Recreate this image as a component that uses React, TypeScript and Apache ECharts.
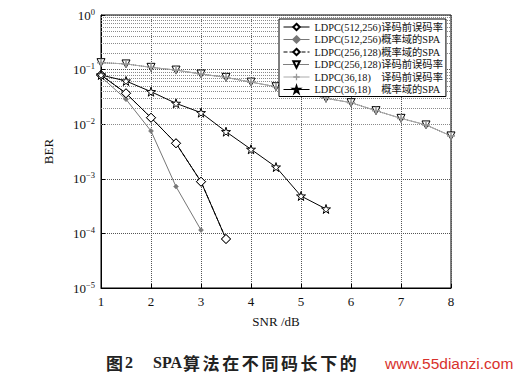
import React, { useEffect, useRef } from "react";
import * as echarts from "echarts";

// SNR values (dB)
const snrTop = [1, 1.5, 2, 2.5, 3, 3.5, 4, 4.5, 5, 5.5, 6, 6.5, 7, 7.5, 8];
const snr256 = [1, 1.5, 2, 2.5, 3, 3.5];
const snr512 = [1, 1.5, 2, 2.5, 3];
const snr36 = [1, 1.5, 2, 2.5, 3, 3.5, 4, 4.5, 5, 5.5];

// BER values
const ber512Pre = [0.0796, 0.0368, 0.01315, 0.00447, 8.85e-4, 7.9e-5];
const ber512Spa = [0.074, 0.0286, 0.0075, 7.2e-4, 1.15e-4];
const ber256Spa = [0.0796, 0.0368, 0.01315, 0.00447, 8.85e-4, 7.9e-5];
const ber256Pre = [0.134, 0.127, 0.11, 0.098, 0.083, 0.072, 0.059, 0.0486, 0.039, 0.0298, 0.0248, 0.0177, 0.0128, 0.0097, 0.0061];
const ber36Pre = [0.134, 0.127, 0.11, 0.098, 0.083, 0.072, 0.059, 0.0486, 0.039, 0.0298, 0.0248, 0.0177, 0.0128, 0.0097, 0.0061];
const ber36Spa = [0.0796, 0.0618, 0.0394, 0.0241, 0.01625, 0.00729, 0.00347, 0.00164, 4.84e-4, 2.8e-4];

const seriesNames = [
  "LDPC(512,256)译码前误码率",
  "LDPC(512,256)概率域的SPA",
  "LDPC(256,128)概率域的SPA",
  "LDPC(256,128)译码前误码率",
  "LDPC(36,18)译码前误码率",
  "LDPC(36,18)概率域的SPA",
];

const xTicks = [1, 2, 3, 4, 5, 6, 7, 8];

const captionFig = "图";
const captionNum = "2";
const captionLatin = "SPA";
const captionText = "算法在不同码长下的";
const watermark = "www.55dianzi.com";

const SERIF = "Liberation Serif, 'Times New Roman', serif";
const CJK = "'Noto Sans CJK SC', sans-serif";
const MIXED = "'Liberation Serif', 'Noto Sans CJK SC', serif";

const STAR =
  "path://M50,0 L61.8,36.2 L100,36.2 L69.1,58.6 L80.9,95.1 L50,72.7 L19.1,95.1 L30.9,58.6 L0,36.2 L38.2,36.2 Z";
const PLUS = "path://M4,0H6V4H10V6H6V10H4V6H0V4H4Z";

const pairs = (xs: number[], ys: number[]) => xs.map((x, i) => [x, ys[i]]);

export default function App() {
  const ref = useRef<HTMLDivElement>(null);
  useEffect(() => {
    document.body.style.margin = "0";
    if (!ref.current) return;
    const chart = echarts.init(ref.current, undefined, { renderer: "svg" });

    const minorLines: { yAxis: number }[] = [];
    for (let d = -5; d <= -1; d++) {
      for (let m = 2; m <= 9; m++) minorLines.push({ yAxis: m * Math.pow(10, d) });
    }

    const emptyStyle = { color: "#fff", borderColor: "#000", borderWidth: 1 };

    const capFont = `bold 17px ${CJK}`;
    const latFont = `bold 16px ${SERIF}`;
    const capCol = "#222";
    const capY = 362;
    const caption: any[] = [
      { type: "text", x: 106, y: capY, style: { text: captionFig, font: capFont, fill: capCol, verticalAlign: "middle" } },
      { type: "text", x: 125, y: capY, style: { text: captionNum, font: latFont, fill: capCol, verticalAlign: "middle" } },
      { type: "text", x: 153, y: capY, style: { text: captionLatin, font: latFont, fill: capCol, verticalAlign: "middle" } },
      ...Array.from(captionText).map((ch, i) => ({
        type: "text",
        x: 183 + i * 19.6,
        y: capY,
        style: { text: ch, font: capFont, fill: capCol, verticalAlign: "middle" },
      })),
      {
        type: "text",
        x: 385,
        y: capY + 1,
        style: {
          text: watermark,
          font: `15.5px 'Liberation Sans', Arial, sans-serif`,
          fill: "#d8312c",
          verticalAlign: "middle",
        },
      },
    ];

    chart.setOption({
      animation: false,
      backgroundColor: "#fff",
      grid: {
        left: 101,
        right: 66,
        top: 15,
        bottom: 90,
        show: true,
        borderColor: "#000",
        borderWidth: 1,
        backgroundColor: "transparent",
      },
      legend: {
        data: seriesNames,
        orient: "vertical",
        left: 279,
        top: 19,
        z: 20,
        padding: [2, 3, 1, 4],
        itemGap: 0.5,
        itemWidth: 26,
        itemHeight: 8,
        backgroundColor: "#fff",
        borderColor: "#000",
        borderWidth: 1,
        selectedMode: false,
        lineStyle: { width: 1 },
        formatter: (name: string) => name.replace("LDPC(36,18)", "LDPC(36,18)    "),
        textStyle: {
          color: "#111",
          fontFamily: MIXED,
          fontSize: 10.3,
          lineHeight: 12,
        },
      },
      xAxis: {
        type: "value",
        min: 1,
        max: 8,
        interval: 1,
        name: "SNR /dB",
        nameLocation: "middle",
        nameGap: 27,
        nameTextStyle: { fontFamily: SERIF, fontSize: 13, color: "#111" },
        axisLine: { show: true, onZero: false, lineStyle: { color: "#000" } },
        axisTick: { show: true, inside: true, length: 4, lineStyle: { color: "#000" } },
        axisLabel: {
          fontFamily: SERIF,
          fontSize: 13,
          color: "#111",
          margin: 7,
          formatter: (v: number) => (xTicks.includes(v) ? String(v) : ""),
        },
        splitLine: { show: true, lineStyle: { type: "dotted", color: "#555", width: 1 } },
      },
      yAxis: {
        type: "log",
        logBase: 10,
        min: 1e-5,
        max: 1,
        name: "BER",
        nameLocation: "middle",
        nameGap: 46,
        nameTextStyle: { fontFamily: SERIF, fontSize: 13, color: "#111" },
        axisLine: { show: true, lineStyle: { color: "#000" } },
        axisTick: { show: true, inside: true, length: 4, lineStyle: { color: "#000" } },
        axisLabel: {
          margin: 6,
          color: "#111",
          formatter: (v: number) => {
            const e = Math.round(Math.log10(v));
            const s = e < 0 ? "\u2212" + Math.abs(e) : String(e);
            return `{b|10}{s|${s}}`;
          },
          rich: {
            b: { fontFamily: SERIF, fontSize: 13, color: "#111" },
            s: { fontFamily: SERIF, fontSize: 8.5, color: "#111", padding: [0, 0, 7, 0] },
          },
        },
        splitLine: { show: true, lineStyle: { type: "dotted", color: "#555", width: 1 } },
      },
      series: [
        {
          name: "_grid",
          type: "line",
          data: [],
          z: 0,
          silent: true,
          markLine: {
            silent: true,
            z: 1,
            symbol: ["none", "none"],
            label: { show: false },
            lineStyle: { type: "dotted", color: "#8a8a8a", width: 1 },
            data: minorLines,
          },
        },
        {
          name: seriesNames[0],
          type: "line",
          data: pairs(snr256, ber512Pre),
          symbol: "diamond",
          symbolSize: 9,
          itemStyle: emptyStyle,
          lineStyle: { color: "#000", width: 1, type: "solid" },
        },
        {
          name: seriesNames[1],
          type: "line",
          data: pairs(snr512, ber512Spa),
          symbol: "diamond",
          symbolSize: 5,
          itemStyle: { color: "#777", borderColor: "#777", borderWidth: 0.5 },
          lineStyle: { color: "#777", width: 1, type: "solid" },
        },
        {
          name: seriesNames[2],
          type: "line",
          data: pairs(snr256, ber256Spa),
          symbol: "diamond",
          symbolSize: 9,
          itemStyle: emptyStyle,
          lineStyle: { color: "#000", width: 1, type: "dashed" },
        },
        {
          name: seriesNames[3],
          type: "line",
          data: pairs(snrTop, ber256Pre),
          symbol: "triangle",
          symbolRotate: 180,
          symbolSize: 8,
          itemStyle: emptyStyle,
          lineStyle: { color: "#000", width: 1, type: "dotted" },
        },
        {
          name: seriesNames[4],
          type: "line",
          data: pairs(snrTop, ber36Pre),
          symbol: PLUS,
          symbolSize: 8,
          itemStyle: { color: "#999", borderWidth: 0 },
          lineStyle: { color: "#aaa", width: 1, type: "solid" },
        },
        {
          name: seriesNames[5],
          type: "line",
          data: pairs(snr36, ber36Spa),
          symbol: STAR,
          symbolSize: 9,
          itemStyle: emptyStyle,
          lineStyle: { color: "#000", width: 1, type: "solid" },
        },
      ],
      graphic: caption,
    });
    return () => chart.dispose();
  }, []);
  return <div ref={ref} style={{ width: 517, height: 378 }} />;
}
